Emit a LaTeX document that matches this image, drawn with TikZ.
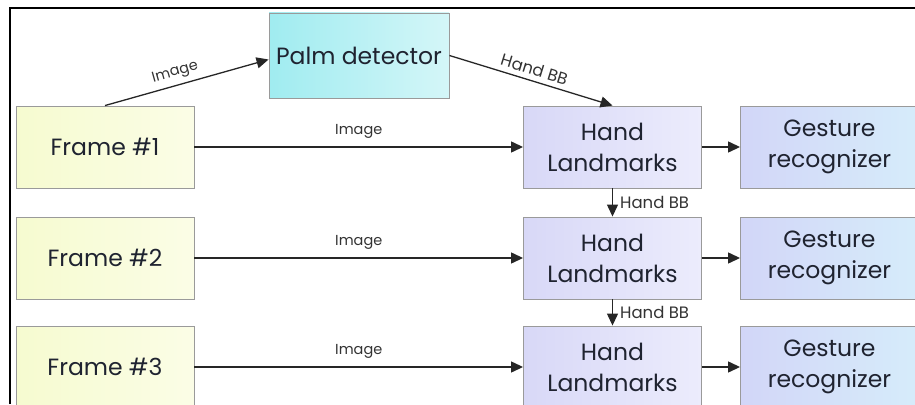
\documentclass[tikz,border=0pt]{standalone}
\usepackage{fontspec}
\setmainfont{Poppins}
\usetikzlibrary{arrows.meta}
\definecolor{bd}{HTML}{9A9A9A}
\definecolor{ln}{HTML}{262626}
\definecolor{tx}{HTML}{1F2330}
\tikzset{
  box/.style={draw=bd, line width=0.9pt, minimum width=178pt, minimum height=82pt, inner sep=0pt, align=center, font=\fontsize{23.5}{31}\selectfont, text=tx},
  framebox/.style={box, left color={rgb,255:red,246;green,251;blue,208}, right color={rgb,255:red,251;green,253;blue,230}},
  handbox/.style={box, left color={rgb,255:red,216;green,216;blue,247}, right color={rgb,255:red,236;green,236;blue,252}},
  gestbox/.style={box, left color={rgb,255:red,210;green,214;blue,248}, right color={rgb,255:red,214;green,236;blue,250}},
  palmbox/.style={box, minimum width=180pt, minimum height=85pt, left color={rgb,255:red,160;green,236;blue,240}, right color={rgb,255:red,212;green,246;blue,248}},
  conn/.style={draw=ln, line width=1.3pt, -{Triangle[length=12pt,width=11pt]}},
  lbl/.style={font=\fontsize{14.5}{16}\selectfont, text=black!80, inner sep=1pt},
  bblbl/.style={lbl, font=\fontsize{16.5}{18}\selectfont},
}
\begin{document}
\begin{tikzpicture}[x=1pt,y=-1pt]
\useasboundingbox (0,0) rectangle (915,404);
\begin{scope}
\clip (0,0) rectangle (915,404);
\node[palmbox] (palm) at (359,55.5) {Palm detector};
\node[framebox] (f1) at (105,147) {Frame \#1};
\node[framebox] (f2) at (105,258) {Frame \#2};
\node[framebox] (f3) at (105,367) {Frame \#3};
\node[handbox] (h1) at (612.5,147) {Hand\\Landmarks};
\node[handbox] (h2) at (612.5,258) {Hand\\Landmarks};
\node[handbox] (h3) at (612.5,367) {Hand\\Landmarks};
\node[gestbox] (g1) at (829.5,147) {Gesture\\recognizer};
\node[gestbox] (g2) at (829.5,258) {Gesture\\recognizer};
\node[gestbox] (g3) at (829.5,367) {Gesture\\recognizer};
\coordinate (pin) at ([yshift=-4pt]palm.west);

\draw[conn] (f1.north) -- node[lbl, sloped, above=4pt, pos=0.45] {Image} (pin);
\draw[conn] (palm.east) -- node[bblbl, sloped, above=4pt, pos=0.5] {Hand BB} (h1.north);
\draw[conn] (f1.east) -- node[lbl, above=7pt, pos=0.5] {Image} (h1.west);
\draw[conn] (f2.east) -- node[lbl, above=7pt, pos=0.5] {Image} (h2.west);
\draw[conn] (f3.east) -- node[lbl, above=7pt, pos=0.5] {Image} (h3.west);
\draw[conn] (h1.east) -- (g1.west);
\draw[conn] (h2.east) -- (g2.west);
\draw[conn] (h3.east) -- (g3.west);
\draw[conn] (h1.south) -- node[bblbl, right=6pt, pos=0.5] {Hand BB} (h2.north);
\draw[conn] (h2.south) -- node[bblbl, right=6pt, pos=0.5] {Hand BB} (h3.north);

\coordinate (cb) at (10,404);
\coordinate (ctl) at (10,8);
\coordinate (ctr) at (915,8);
\draw[black, line width=2pt] (cb) -- (ctl) -- (ctr);
\end{scope}
\end{tikzpicture}
\end{document}
